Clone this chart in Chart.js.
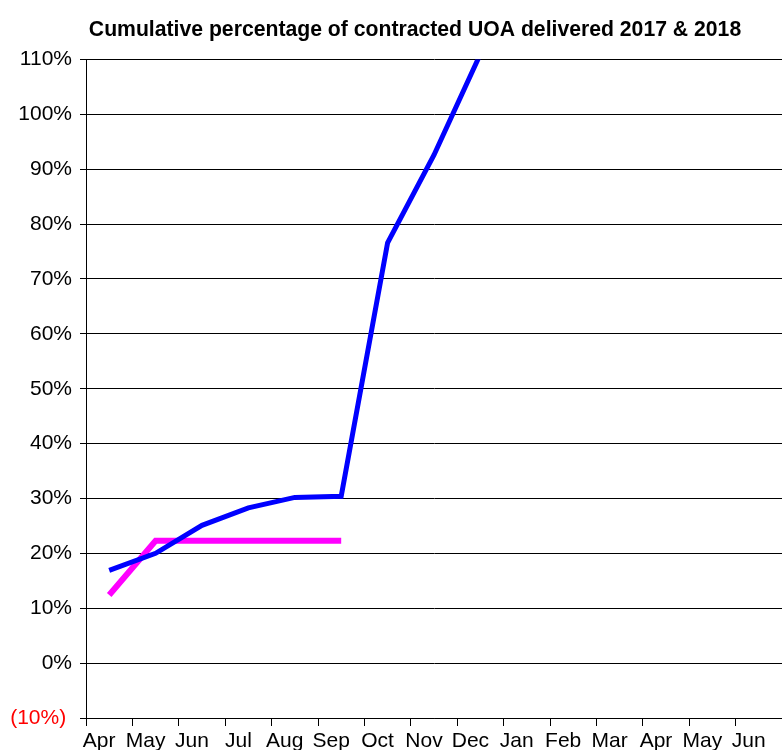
<!DOCTYPE html>
<html>
<head>
<meta charset="utf-8">
<script src="https://cdn.jsdelivr.net/npm/chart.js@4/dist/chart.umd.min.js"></script>
<style>
  html, body { margin: 0; padding: 0; background: #fff; }
  #wrap { width: 782px; height: 750px; }
</style>
</head>
<body>
<div id="wrap"><canvas id="uoaChart"></canvas></div>
<script>
// months Apr 2017 .. Jun 2018
const months = ['Apr', 'May', 'Jun', 'Jul', 'Aug', 'Sep', 'Oct', 'Nov', 'Dec', 'Jan', 'Feb', 'Mar', 'Apr', 'May', 'Jun'];
const delivered2017 = [16.9, 20.0, 25.1, 28.3, 30.2, 30.4, 76.6, 92.6, 111, null, null, null, null, null, null];
const delivered2018 = [12.4, 22.3, 22.3, 22.3, 22.3, 22.3, null, null, null, null, null, null, null, null, null];
const yMin = -10;
const yMax = 110;
const yStep = 10;

const fontFamily = 'Arial, "Liberation Sans", sans-serif';

// the title sits a bit left of the plot centre in the original
const titleShift = {
    id: 'titleShift',
    afterLayout(chart) {
        const t = chart.titleBlock;
        if (t) {
            t.left = 48;
            t.right = chart.width;
        }
    }
};

const ctx = document.getElementById('uoaChart').getContext('2d');
new Chart(ctx, {
    type: 'line',
    data: {
        labels: months,
        datasets: [
            {
                label: '2017',
                data: delivered2017,
                borderColor: '#0000ff',
                borderWidth: 5,
                borderCapStyle: 'butt',
                pointRadius: 0,
                tension: 0,
                spanGaps: false
            },
            {
                label: '2018',
                data: delivered2018,
                borderColor: '#ff00ff',
                borderWidth: 6,
                borderCapStyle: 'butt',
                pointRadius: 0,
                tension: 0,
                spanGaps: false
            }
        ]
    },
    plugins: [titleShift],
    options: {
        responsive: true,
        maintainAspectRatio: false,
        animation: false,
        layout: { padding: { left: 0, right: 0, top: 0, bottom: 0 } },
        plugins: {
            legend: { display: false },
            tooltip: { enabled: false },
            title: {
                display: true,
                text: 'Cumulative percentage of contracted UOA delivered 2017 & 2018',
                color: '#000',
                font: { family: fontFamily, size: 21.2, weight: 'bold' },
                padding: { top: 17, bottom: 17 }
            }
        },
        scales: {
            x: {
                offset: true,
                grid: {
                    offset: true,
                    drawOnChartArea: false,
                    drawTicks: true,
                    tickLength: 8,
                    color: '#000'
                },
                border: { display: true, color: '#000', width: 1 },
                ticks: {
                    autoSkip: false,
                    maxRotation: 0,
                    minRotation: 0,
                    padding: 3,
                    labelOffset: -10,
                    color: '#000',
                    font: { family: fontFamily, size: 21 }
                },
                afterFit: function(scale) { scale.height = 32; }
            },
            y: {
                min: yMin,
                max: yMax,
                grid: {
                    color: '#000',
                    lineWidth: 1,
                    drawTicks: true,
                    tickLength: 6
                },
                border: { display: true, color: '#000', width: 1 },
                ticks: {
                    stepSize: yStep,
                    padding: 8,
                    font: { family: fontFamily, size: 21 },
                    color: function(c) {
                        return c.tick && c.tick.value < 0 ? '#ff0000' : '#000';
                    },
                    callback: function(v) {
                        // negative shown in brackets, nudged left like the original
                        if (v < 0) return '(' + Math.abs(v) + '%) ';
                        return v + '%';
                    }
                },
                afterFit: function(scale) { scale.width = 86; }
            }
        }
    }
});
</script>
</body>
</html>
